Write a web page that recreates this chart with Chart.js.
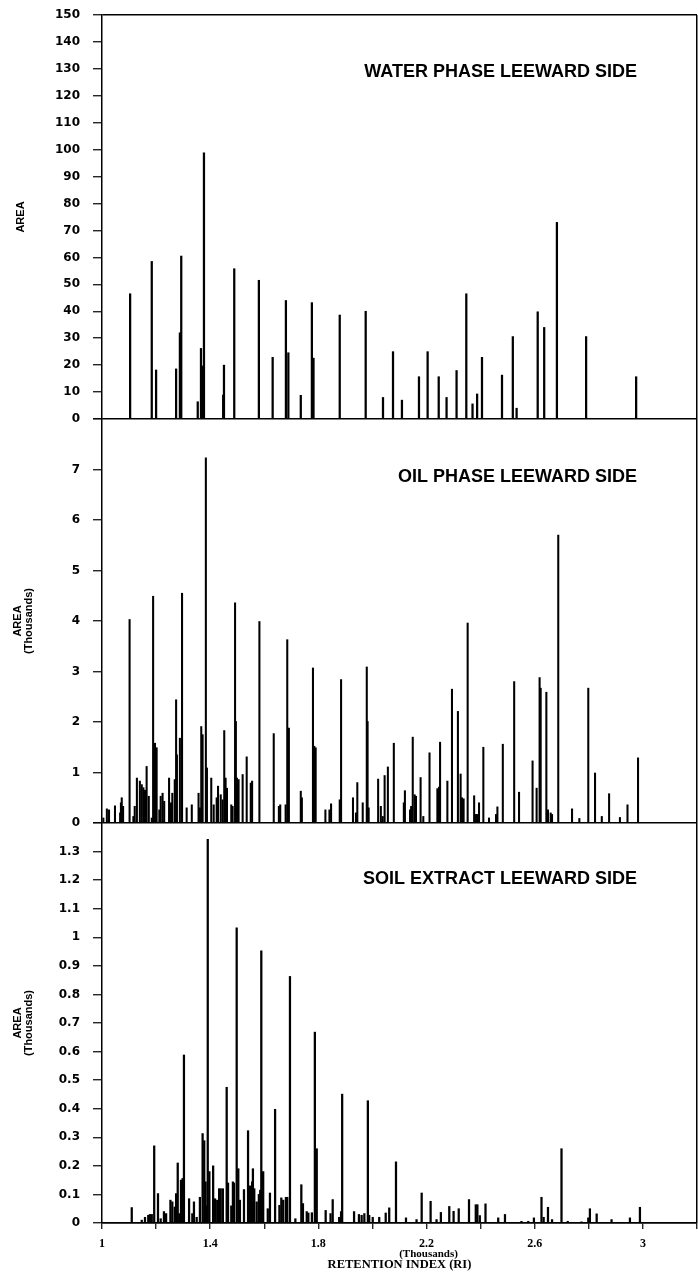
<!DOCTYPE html>
<html>
<head>
<meta charset="utf-8">
<script src="https://cdn.jsdelivr.net/npm/chart.js@4.4.1/dist/chart.umd.min.js"></script>
<style>
html,body{margin:0;padding:0;background:#fff;}
canvas{display:block;}
</style>
</head>
<body>
<canvas id="c" width="698" height="1279"></canvas>
<script>
// ---- DATA (retention index in thousands) ----
const waterRI = [
  1.104,1.184,1.200,1.274,1.288,1.293,1.354,1.366,1.372,1.377,
  1.448,1.451,1.489,1.580,1.631,1.680,1.689,1.735,1.776,1.782,
  1.879,1.975,2.039,2.076,2.109,2.172,2.204,2.245,2.274,2.311,
  2.347,2.370,2.387,2.405,2.479,2.519,2.533,2.611,2.635,2.682,
  2.790,2.975];
const waterArea = [
  46.5,58.5,18.2,18.6,32,60.5,6.4,26.2,19.7,98.8,
  8.9,20,55.8,51.5,22.9,44,24.6,8.8,43.2,22.6,
  38.6,40,8,25,7,15.7,25,15.7,8,18,
  46.5,5.6,9.3,22.9,16.3,30.6,4,39.8,34,73,
  30.6,15.7];

const oilRI = [
  1.005,1.018,1.026,1.048,1.067,1.070,1.073,1.078,1.102,1.116,
  1.121,1.129,1.140,1.147,1.153,1.159,1.165,1.173,1.184,1.189,
  1.196,1.202,1.212,1.217,1.224,1.230,1.248,1.255,1.260,1.269,
  1.274,1.277,1.288,1.296,1.313,1.332,1.357,1.362,1.367,1.372,
  1.384,1.388,1.404,1.413,1.424,1.429,1.439,1.446,1.452,1.457,
  1.462,1.478,1.483,1.492,1.495,1.499,1.505,1.520,1.535,1.550,
  1.555,1.582,1.635,1.654,1.659,1.679,1.685,1.691,1.735,1.739,
  1.780,1.785,1.790,1.826,1.841,1.847,1.879,1.884,1.928,1.939,
  1.944,1.964,1.979,1.982,1.986,2.021,2.031,2.038,2.045,2.057,
  2.079,2.116,2.120,2.139,2.143,2.149,2.156,2.161,2.178,2.188,
  2.211,2.240,2.246,2.250,2.277,2.294,2.316,2.326,2.331,2.337,
  2.352,2.376,2.383,2.387,2.394,2.410,2.431,2.457,2.462,2.482,
  2.524,2.542,2.592,2.607,2.618,2.622,2.643,2.649,2.659,2.664,
  2.687,2.738,2.765,2.798,2.823,2.848,2.875,2.915,2.943,2.982];
const oilArea = [
  0.10,0.28,0.26,0.34,0.20,0.40,0.50,0.33,4.03,0.13,
  0.33,0.89,0.83,0.76,0.70,0.65,1.12,0.53,0.10,4.49,
  1.58,1.49,0.26,0.53,0.59,0.43,0.89,0.40,0.59,0.86,
  2.44,1.35,1.68,4.55,0.30,0.36,0.59,0.30,1.91,1.75,
  7.23,1.09,0.89,0.36,0.50,0.73,0.56,0.46,1.83,0.89,
  0.69,0.36,0.33,4.36,2.01,0.89,0.86,0.96,1.31,0.79,
  0.83,3.99,1.77,0.33,0.36,0.36,3.63,1.88,0.63,0.50,
  3.07,1.52,1.49,0.26,0.26,0.38,0.46,2.84,0.50,0.20,
  0.80,0.40,3.09,2.01,0.30,0.87,0.33,0.13,0.94,1.11,
  1.58,0.40,0.64,0.26,0.33,1.70,0.56,0.53,0.90,0.13,
  1.39,0.68,0.71,1.60,0.83,2.65,2.21,0.97,0.50,0.48,
  3.96,0.54,0.17,0.17,0.40,1.50,0.10,0.17,0.32,1.56,
  2.80,0.61,1.23,0.69,2.88,2.67,2.59,0.26,0.20,0.17,
  5.70,0.28,0.09,2.67,0.99,0.13,0.58,0.11,0.36,1.29];

const soilRI = [
  1.110,1.147,1.159,1.171,1.177,1.184,1.193,1.207,1.217,1.229,
  1.237,1.253,1.260,1.269,1.274,1.280,1.286,1.292,1.298,1.303,
  1.322,1.334,1.340,1.350,1.362,1.372,1.378,1.383,1.387,1.391,
  1.397,1.411,1.418,1.426,1.433,1.439,1.447,1.461,1.466,1.478,
  1.484,1.488,1.498,1.504,1.510,1.525,1.540,1.547,1.555,1.558,
  1.563,1.572,1.580,1.585,1.589,1.593,1.596,1.613,1.621,1.640,
  1.656,1.663,1.670,1.680,1.685,1.695,1.715,1.737,1.743,1.757,
  1.763,1.776,1.787,1.794,1.827,1.845,1.853,1.877,1.884,1.888,
  1.932,1.950,1.960,1.970,1.983,1.988,2.001,2.025,2.049,2.062,
  2.087,2.124,2.163,2.182,2.215,2.237,2.253,2.284,2.300,2.319,
  2.357,2.382,2.388,2.397,2.418,2.465,2.490,2.551,2.576,2.597,
  2.625,2.633,2.649,2.664,2.699,2.722,2.773,2.798,2.804,2.829,
  2.884,2.952,2.989];
const soilArea = [
  0.054,0.010,0.020,0.027,0.030,0.030,0.270,0.103,0.015,0.040,
  0.033,0.080,0.074,0.056,0.103,0.210,0.033,0.150,0.156,0.588,
  0.085,0.033,0.074,0.020,0.090,0.313,0.288,0.144,0.060,1.343,
  0.180,0.200,0.085,0.080,0.120,0.120,0.120,0.475,0.140,0.060,
  0.144,0.140,1.033,0.190,0.080,0.117,0.323,0.130,0.144,0.190,
  0.120,0.074,0.100,0.115,0.953,0.175,0.180,0.050,0.105,0.398,
  0.062,0.088,0.080,0.090,0.090,0.863,0.015,0.134,0.068,0.040,
  0.035,0.036,0.668,0.260,0.044,0.033,0.082,0.020,0.040,0.451,
  0.040,0.030,0.027,0.033,0.428,0.027,0.020,0.020,0.035,0.053,
  0.214,0.018,0.012,0.105,0.076,0.012,0.037,0.058,0.041,0.050,
  0.082,0.064,0.064,0.026,0.067,0.018,0.030,0.006,0.006,0.018,
  0.090,0.020,0.055,0.012,0.260,0.006,0.004,0.018,0.050,0.032,
  0.012,0.018,0.055];

// ---- TICKS / LABELS ----
const xTickValues = [1,1.2,1.4,1.6,1.8,2.0,2.2,2.4,2.6,2.8,3.0,3.2];
const xTickLabels = ['1','','1.4','','1.8','','2.2','','2.6','','3',''];
const waterTicks = [0,10,20,30,40,50,60,70,80,90,100,110,120,130,140,150];
const waterTickLabels = ['0','10','20','30','40','50','60','70','80','90','100','110','120','130','140','150'];
const oilTicks = [0,1,2,3,4,5,6,7,8];
const oilTickLabels = ['0','1','2','3','4','5','6','7',''];
const soilTicks = [0,0.1,0.2,0.3,0.4,0.5,0.6,0.7,0.8,0.9,1,1.1,1.2,1.3,1.4];
const soilTickLabels = ['0','0.1','0.2','0.3','0.4','0.5','0.6','0.7','0.8','0.9','1','1.1','1.2','1.3',''];
const panelTitles = ['WATER PHASE LEEWARD SIDE','OIL PHASE LEEWARD SIDE','SOIL EXTRACT LEEWARD SIDE'];
const xTitle = 'RETENTION INDEX (RI)';
const xUnit = '(Thousands)';

const toPoints = (xs, ys) => xs.map((x, i) => ({x: x, y: ys[i]}));

const CLEAR = 'rgba(0,0,0,0)';
function yAxis(ticks, labels, max, title, pad, blackVals, weight) {
  return {
    type: 'linear', position: 'left', stack: 'panels', stackWeight: weight,
    min: 0, max: max, offset: false,
    afterBuildTicks: s => { s.ticks = ticks.map(v => ({value: v})); },
    afterFit: s => { s.width = 102; s.paddingTop = 0; s.paddingBottom = 0; },
    border: {display: true, color: '#000', width: 1.5},
    grid: {
      color: c => (c.tick && blackVals.indexOf(c.tick.value) >= 0) ? '#000' : CLEAR,
      lineWidth: 1.5, tickColor: '#000', tickLength: 9, tickWidth: 1.2
    },
    ticks: {
      color: '#000', padding: 13, autoSkip: false,
      font: {family: 'DejaVu Sans', weight: 'bold', size: 12},
      callback: (v, i) => labels[i]
    },
    title: {
      display: true, text: title, color: '#000',
      font: {family: 'Liberation Sans', weight: 'bold', size: 11, lineHeight: 1.0},
      padding: {top: pad, bottom: 0}
    }
  };
}

const annot = {
  id: 'annot',
  afterDraw(chart) {
    const ctx = chart.ctx;
    const xs = chart.scales.x;
    const ids = ['yWater', 'yOil', 'ySoil'];
    const anchorY = [128.8, 6.85, 1.204];
    ctx.save();
    ctx.fillStyle = '#000';
    ctx.font = 'bold 18px "Liberation Sans"';
    ctx.textAlign = 'right';
    ctx.textBaseline = 'middle';
    const xr = xs.getPixelForValue(2.978);
    panelTitles.forEach((t, i) => {
      ctx.fillText(t, xr, chart.scales[ids[i]].getPixelForValue(anchorY[i]));
    });
    ctx.font = 'bold 11px "Liberation Serif"';
    ctx.textAlign = 'center';
    ctx.fillText(xUnit, xs.getPixelForValue(2.2) + 2, chart.chartArea.bottom + 31);
    ctx.restore();
  }
};

new Chart(document.getElementById('c'), {
  type: 'bar',
  data: {
    datasets: [
      {label: 'Soil', data: toPoints(soilRI, soilArea), yAxisID: 'ySoil', backgroundColor: '#000', barThickness: 1.6, grouped: false},
      {label: 'Oil', data: toPoints(oilRI, oilArea), yAxisID: 'yOil', backgroundColor: '#000', barThickness: 1.4, grouped: false},
      {label: 'Water', data: toPoints(waterRI, waterArea), yAxisID: 'yWater', backgroundColor: '#000', barThickness: 1.6, grouped: false}
    ]
  },
  options: {
    responsive: false,
    animation: false,
    layout: {padding: {top: 15, right: 1, left: 0, bottom: 0}},
    plugins: {legend: {display: false}, tooltip: {enabled: false}},
    scales: {
      x: {
        type: 'linear', min: 1, max: 3.2, offset: false,
        afterBuildTicks: s => { s.ticks = xTickValues.map(v => ({value: v})); },
        afterFit: s => { s.height = 56; s.paddingLeft = 0; s.paddingRight = 0; },
        border: {display: true, color: '#000', width: 1.5},
        grid: {
          offset: false,
          color: c => (c.tick && Math.abs(c.tick.value - 3.2) < 1e-9) ? '#000' : CLEAR,
          lineWidth: 1.5, tickColor: '#000', tickLength: 6, tickWidth: 1.2
        },
        ticks: {
          color: '#000', padding: 8, maxRotation: 0, autoSkip: false,
          font: {family: 'Liberation Serif', weight: 'bold', size: 12},
          callback: (v, i) => xTickLabels[i]
        },
        title: {
          display: true, text: xTitle, color: '#000',
          font: {family: 'Liberation Serif', weight: 'bold', size: 12.5, lineHeight: 1.2},
          padding: {top: 0, bottom: 6.5}
        }
      },
      ySoil: yAxis(soilTicks, soilTickLabels, 1.4, ['AREA', '(Thousands)'], 12.5, [0], 400),
      yOil: yAxis(oilTicks, oilTickLabels, 8, ['AREA', '(Thousands)'], 12.5, [0], 404),
      yWater: yAxis(waterTicks, waterTickLabels, 150, 'AREA', 15.5, [0, 150], 404)
    }
  },
  plugins: [annot]
});
</script>
</body>
</html>
